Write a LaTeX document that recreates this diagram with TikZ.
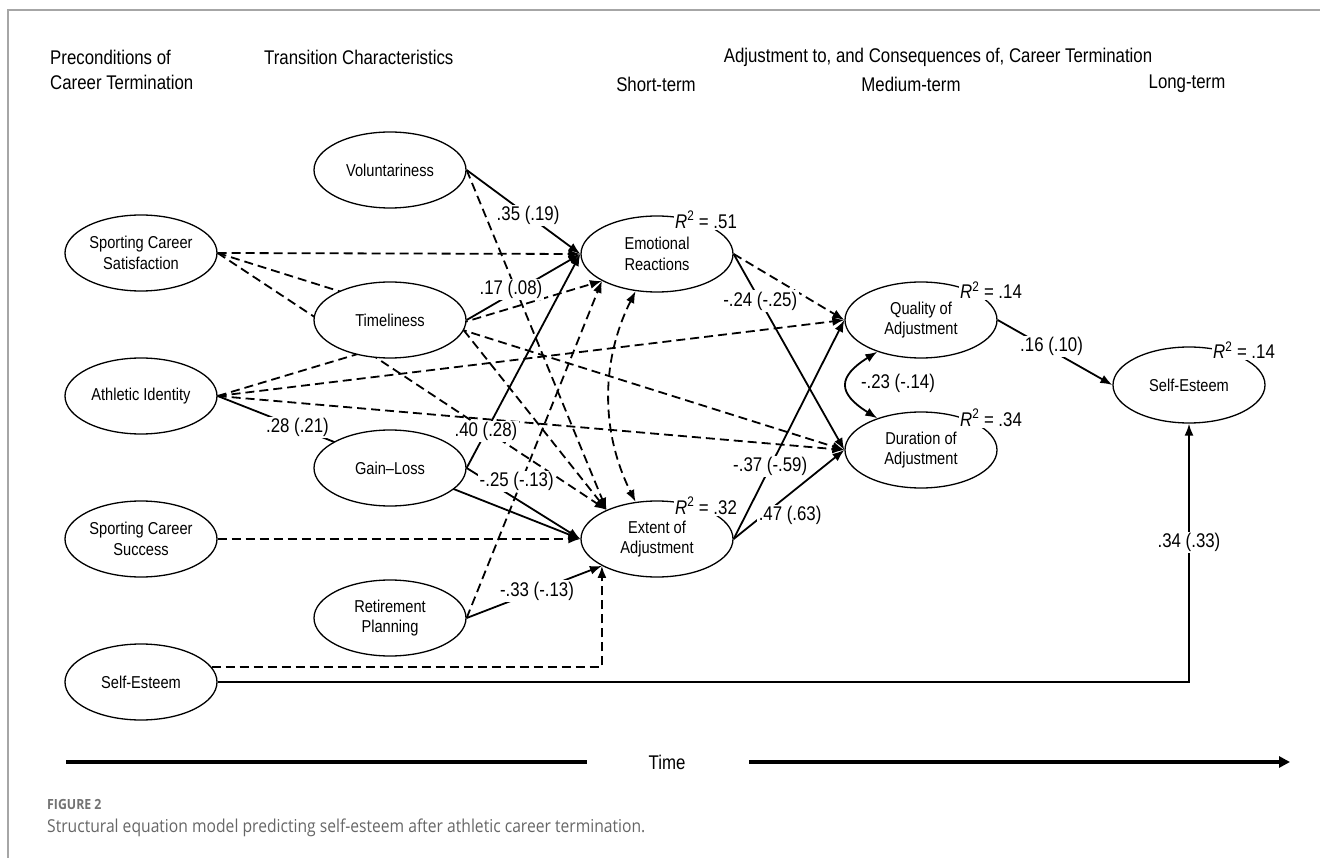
\documentclass[tikz,border=0pt]{standalone}
\usepackage{fontspec}
\setmainfont{Liberation Sans}[FakeStretch=0.85]
\newfontfamily\capfont{Open Sans}[FakeStretch=0.88]
\usetikzlibrary{arrows.meta,shapes.geometric,calc}
\pgfdeclarelayer{bg}
\pgfdeclarelayer{fg}
\pgfsetlayers{bg,main,fg}
\begin{document}
\begin{tikzpicture}[x=1pt,y=-1pt,
  var/.style={ellipse,draw,line width=1.3pt,fill=white,minimum width=152pt,minimum height=76pt,inner sep=0pt,align=center,font=\fontsize{17.2}{20.5}\selectfont},
  hdr/.style={font=\fontsize{19.8}{25}\selectfont,inner sep=0pt,align=left},
  lab/.style={fill=white,inner sep=1.5pt,font=\fontsize{19.8}{22}\selectfont},
  sig/.style={line width=1.8pt,-{Latex[length=12pt,width=9pt]}},
  ns/.style={sig,dash pattern=on 9pt off 5pt},
  cov/.style={line width=1.8pt,{Latex[length=12pt,width=9pt]}-{Latex[length=12pt,width=9pt]}},
  timeline/.style={line width=4pt}
]
\useasboundingbox (0,0) rectangle (1320,858);
% frame
\draw[black!35,line width=1.5pt] (8,858) -- (8,10) -- (1320,10);

% headers
\node[hdr,anchor=west] (h1) at (50,69.5) {Preconditions of\\Career Termination};
\node[hdr,anchor=west] (h2) at (264,57) {Transition Characteristics};
\node[hdr] (h3) at (938,57) {Adjustment to, and Consequences of, Career Termination};
\node[hdr] (h4) at (656,84) {Short-term};
\node[hdr] (h5) at (911,84) {Medium-term};
\node[hdr] (h6) at (1187,84) {Long-term};

% variables
\node[var] (SCS) at (141,253) {Sporting Career\\Satisfaction};
\node[var] (AI)  at (141,396) {Athletic Identity};
\node[var] (SCU) at (141,539) {Sporting Career\\Success};
\node[var] (SEL) at (141,682) {Self-Esteem};
\node[var] (VOL) at (390,170) {Voluntariness};
\node[var] (TIM) at (390,320) {Timeliness};
\node[var] (GL)  at (390,468) {Gain--Loss};
\node[var] (RP)  at (390,618) {Retirement\\Planning};
\node[var] (ER)  at (657,254) {Emotional\\Reactions};
\node[var] (EA)  at (657,539) {Extent of\\Adjustment};
\node[var] (QA)  at (921,320) {Quality of\\Adjustment};
\node[var] (DA)  at (921,450) {Duration of\\Adjustment};
\node[var] (SER) at (1189,385) {Self-Esteem};

\begin{pgfonlayer}{bg}
% significant paths
\draw[sig] (VOL.east) -- (ER.west);
\draw[sig] (TIM.east) -- (ER.west);
\draw[sig] (GL.east) -- (ER.west);
\draw[sig] (AI.east) -- (EA.west);
\draw[sig] (GL.east) -- (EA.west);
\draw[sig] (RP.east) -- (EA.206);
\draw[sig] (ER.east) -- (DA.west);
\draw[sig] (EA.east) -- (QA.west);
\draw[sig] (EA.east) -- (DA.west);
\draw[sig] (QA.east) -- (SER.west);
\draw[sig] (SEL.east) -| (SER.south);
\draw[cov] (QA.216) .. controls +(-40,25) and +(-40,-25) .. (DA.144);
% non-significant paths
\draw[ns] (SCS.east) -- (ER.west);
\draw[ns] (SCS.east) -- (DA.west);
\draw[ns] (SCS.east) -- (EA.150);
\draw[ns] (AI.east) -- (ER.206);
\draw[ns] (AI.east) -- (QA.west);
\draw[ns] (AI.east) -- (DA.west);
\draw[ns] (VOL.east) -- (EA.150);
\draw[ns] (TIM.-8) -- (EA.150);
\draw[ns] (RP.east) -- (ER.206);
\draw[ns] (SCU.east) -- (EA.west);
\draw[ns] (SEL.12) -| (EA.206);
\draw[ns] (ER.east) -- (QA.west);
\draw[cov,dash pattern=on 9pt off 5pt] (ER.240) .. controls +(-35,70) and +(-35,-70) .. (EA.120);
\end{pgfonlayer}

\begin{pgfonlayer}{fg}
\path (VOL.east) -- (ER.west) node[lab,pos=.54] (l1) {.35 (.19)};
\path (TIM.east) -- (ER.west) node[lab,pos=.39,yshift=5pt] (l2) {.17 (.08)};
\path (GL.east) -- (ER.west) node[lab,pos=.17] (l3) {.40 (.28)};
\path (AI.east) -- (EA.west) node[lab,pos=.22] (l4) {.28 (.21)};
\path (GL.east) -- (EA.west) node[lab,pos=.44,yshift=18pt] (l5) {-.25 (-.13)};
\path (RP.east) -- (EA.206) node[lab,pos=.52] (l6) {-.33 (-.13)};
\path (ER.east) -- (DA.west) node[lab,pos=.24] (l7) {-.24 (-.25)};
\path (EA.east) -- (QA.west) node[lab,pos=.33] (l8) {-.37 (-.59)};
\path (EA.east) -- (DA.west) node[lab,pos=.51,yshift=-22pt] (l9) {.47 (.63)};
\path (QA.east) -- (SER.west) node[lab,pos=.47,yshift=4pt] (l10) {.16 (.10)};
\path (SEL.east) -| (SER.south) node[lab,pos=.77] (l11) {.34 (.33)};
\node[lab] (l12) at (898,383) {-.23 (-.14)};
% R squared
\node[lab] (r1) at ($(ER.center)+(49,-34)$) {\textit{R}\textsuperscript{2} = .51};
\node[lab] (r2) at ($(EA.center)+(49,-33)$) {\textit{R}\textsuperscript{2} = .32};
\node[lab] (r3) at ($(QA.center)+(70,-30)$) {\textit{R}\textsuperscript{2} = .14};
\node[lab] (r4) at ($(DA.center)+(70,-32)$) {\textit{R}\textsuperscript{2} = .34};
\node[lab] (r5) at ($(SER.center)+(55,-35)$) {\textit{R}\textsuperscript{2} = .14};
\end{pgfonlayer}

% time axis
\node[hdr] (time) at (667,762) {Time};
\coordinate (t0) at (66,762);
\coordinate (t1) at (587,762);
\coordinate (t2) at (749,762);
\coordinate (t3) at (1290,762);
\draw[timeline] (t0) -- (t1);
\draw[timeline,-{Triangle[length=11pt,width=11pt]}] (t2) -- (t3);

% caption
\node[anchor=west,inner sep=0pt,text=black!55,font=\capfont\bfseries\fontsize{14}{16}\selectfont] (fig) at (47,804) {FIGURE 2};
\node[anchor=west,inner sep=0pt,text=black!60,font=\capfont\fontsize{17.8}{20}\selectfont] (cap) at (47,828) {Structural equation model predicting self-esteem after athletic career termination.};
\end{tikzpicture}
\end{document}
